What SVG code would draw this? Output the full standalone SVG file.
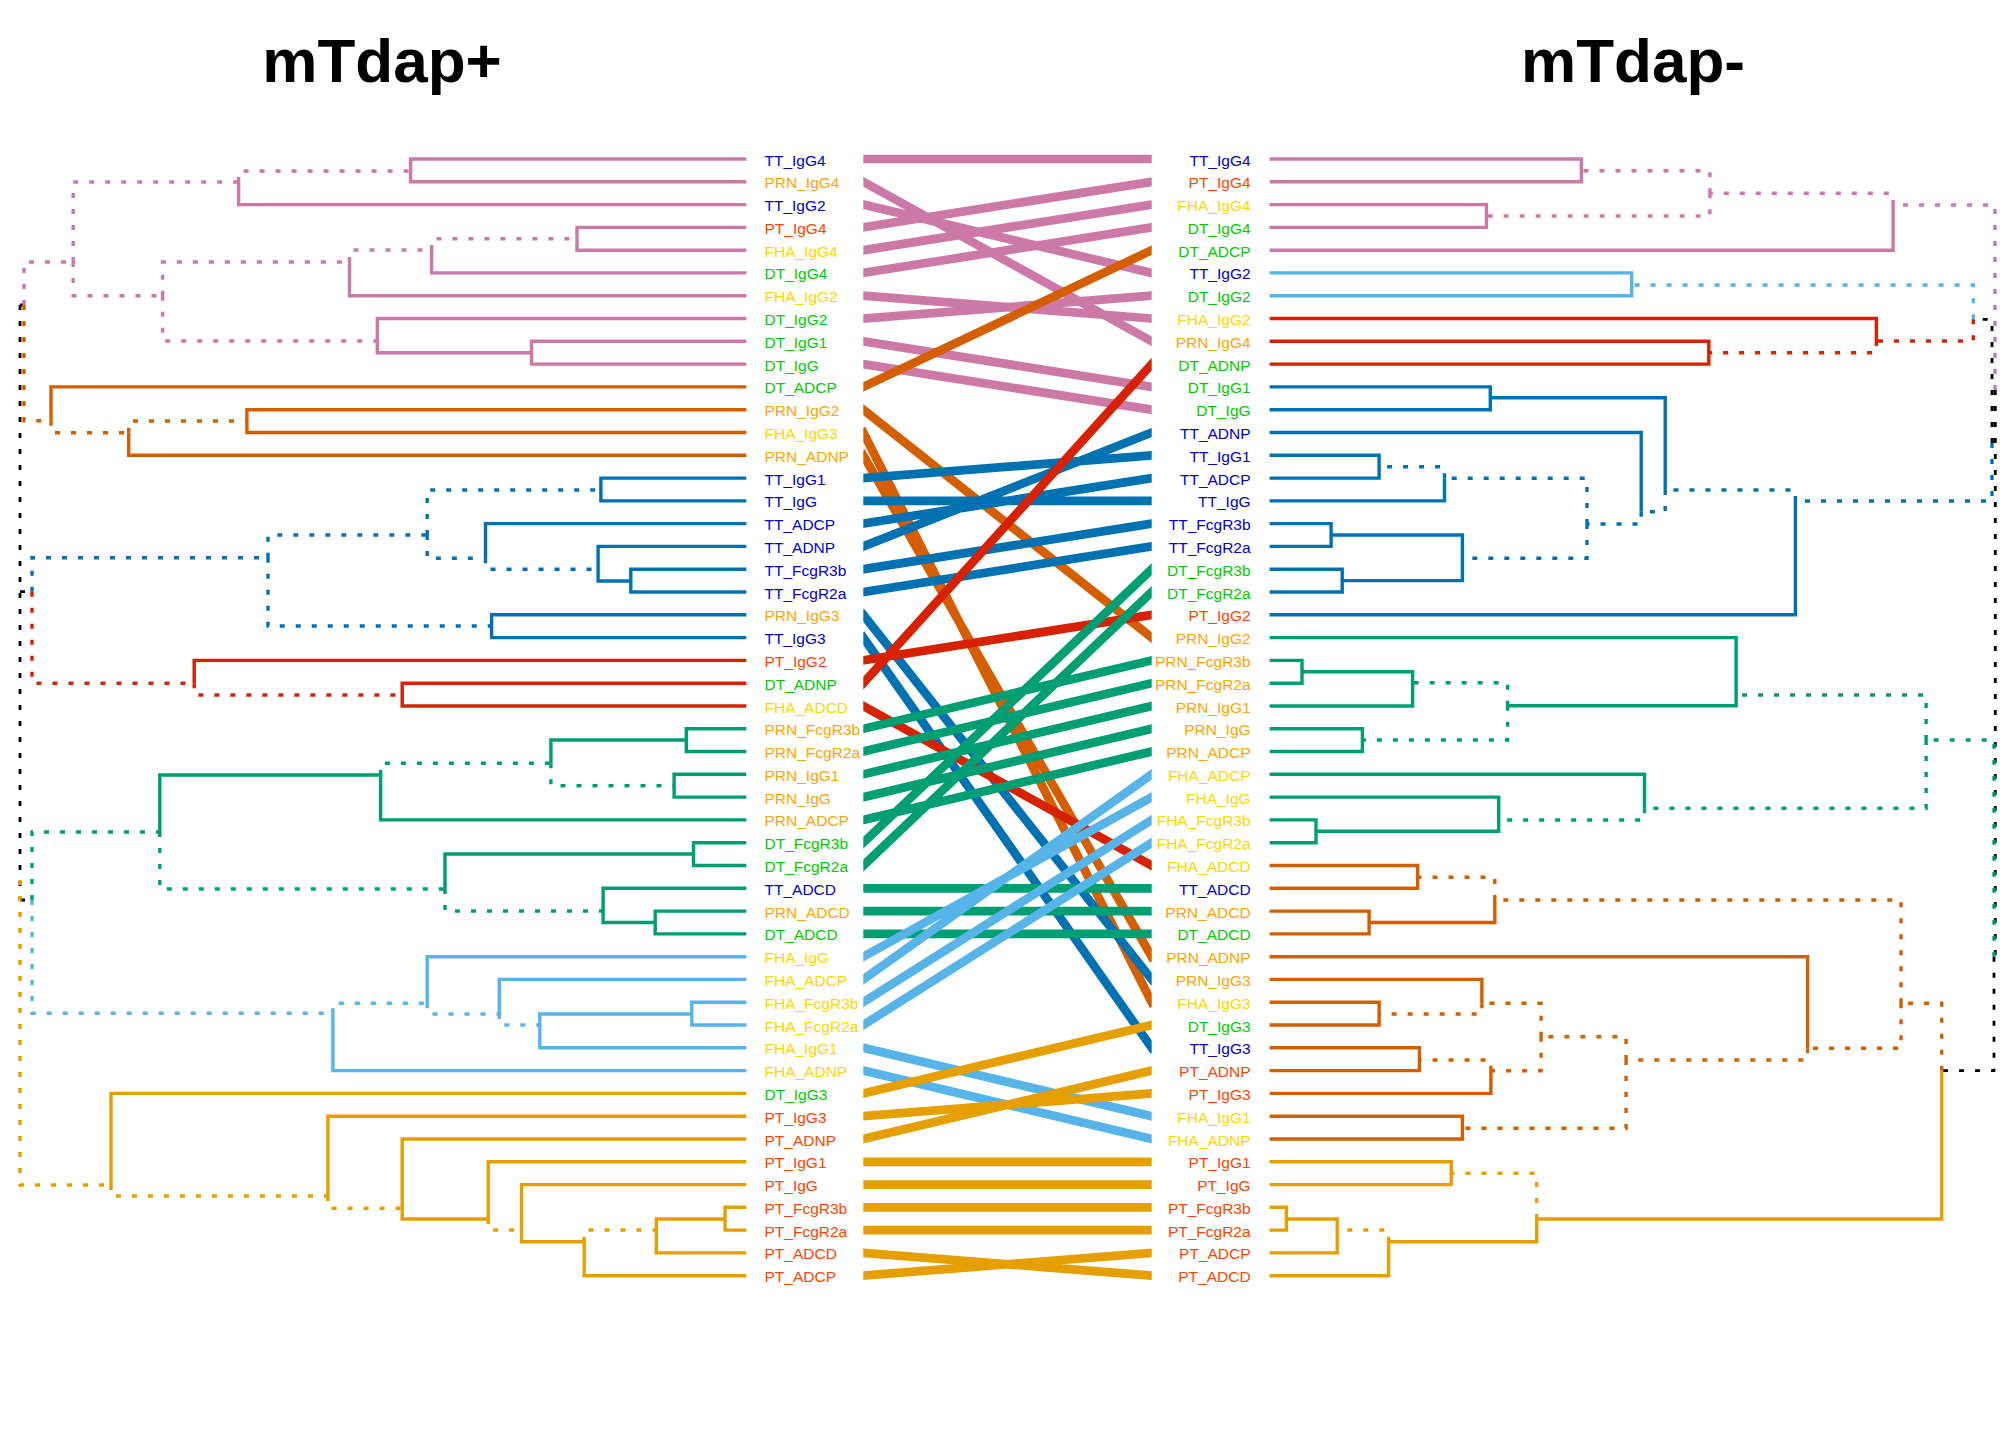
<svg xmlns="http://www.w3.org/2000/svg" width="2016" height="1440" viewBox="0 0 2016 1440">
<style>
.e{fill:none;stroke-width:3.4;stroke-linecap:butt}
.d{stroke-dasharray:5 11}
.k{stroke:#000;stroke-width:2.8}
.pk{stroke:#CC79A7}.or{stroke:#D55E00}.bl{stroke:#0072B2}.rd{stroke:#D62200}.gr{stroke:#009E73}.sb{stroke:#56B4E9}.yl{stroke:#E69F00}
.c{stroke-width:8.7;stroke-linecap:square;fill:none}
text{font-family:"Liberation Sans",Arial,sans-serif;font-size:15.5px}
.t{font-size:62px;font-weight:bold;fill:#000;text-anchor:middle}
.TT{fill:#0000CD}.PRN{fill:#FFA500}.PT{fill:#FF4500}.FHA{fill:#FFD700}.DT{fill:#00CD00}
.r{text-anchor:end}
</style>
<defs><clipPath id="cc"><rect x="863.3" y="0" width="288.4" height="1440"/></clipPath></defs>
<rect width="2016" height="1440" fill="#fff"/>
<g id="titles">
<text class="t" x="382" y="82">mTdap+</text>
<text class="t" x="1633" y="82">mTdap-</text>
</g>
<g id="left-dendrogram">
<path class="e k d" d="M20 305H24M20 305V900M20 591.7H32M20 900H32"/>
<path class="e pk" d="M238.6 182V204.6H746.3M410.6 171V159H746.3M410.6 171V181.8H746.3M349.5 262V295.7H746.3M431.6 250V272.9H746.3M577 238.8V227.4H746.3M577 238.8V250.2H746.3M377.3 341V318.5H746.3M377.3 341V352.7H531.5M531.5 352.7V341.3H746.3M531.5 352.7V364.1H746.3"/>
<path class="e pk d" d="M24 305V262H73.2M73.2 262V182H238.6M238.6 182V171H410.6M73.2 262V295.7H162.6M162.6 295.7V262H349.5M162.6 295.7V341H377.3M349.5 262V250H431.6M431.6 250V238.8H577"/>
<path class="e or" d="M51 420.7V386.9H746.3M128.7 432.7V455.3H746.3M246.9 421V409.7H746.3M246.9 421V432.5H746.3"/>
<path class="e or d" d="M24 305V420.7H51M51 420.7V432.7H128.7M128.7 432.7V421H246.9"/>
<path class="e bl" d="M600.9 490V478.1H746.3M600.9 490V500.9H746.3M485.5 558.3V523.6H746.3M598.1 569.3V546.4H746.3M598.1 569.3V581H630.8M630.8 581V569.2H746.3M630.8 581V592H746.3M491.6 626V614.8H746.3M491.6 626V637.6H746.3"/>
<path class="e bl d" d="M32 591.7V557.7H268M268 557.7V535H427.2M268 557.7V626H491.6M427.2 535V490H600.9M427.2 535V558.3H485.5M485.5 558.3V569.3H598.1"/>
<path class="e rd" d="M194.2 683.2V660.4H746.3M402.2 695V683.2H746.3M402.2 695V706H746.3"/>
<path class="e rd d" d="M32 591.7V683.2H194.2M194.2 683.2V695H402.2"/>
<path class="e gr" d="M159.8 832V775H380.6M380.6 775V819.9H746.3M550.9 763.3V740H686.3M686.3 740V728.8H746.3M686.3 740V751.5H746.3M674.1 785.7V774.3H746.3M674.1 785.7V797.1H746.3M445 889V854H693.5M693.5 854V842.7H746.3M693.5 854V865.5H746.3M603.1 911V888.3H746.3M603.1 911V922.5H655.2M655.2 922.5V911.1H746.3M655.2 922.5V933.9H746.3"/>
<path class="e gr d" d="M32 900V832H159.8M159.8 832V889H445M380.6 775V763.3H550.9M550.9 763.3V785.7H674.1M445 889V911H603.1"/>
<path class="e sb" d="M332.9 1013.3V1070.6H746.3M427.2 1003.3V956.7H746.3M499.3 1014V979.4H746.3M539.8 1025V1014H691.8M539.8 1025V1047.8H746.3M691.8 1014V1002.2H746.3M691.8 1014V1025H746.3"/>
<path class="e sb d" d="M32 900V1013.3H332.9M332.9 1013.3V1003.3H427.2M427.2 1003.3V1014H499.3M499.3 1014V1025H539.8"/>
<path class="e yl" d="M111 1185V1093.4H746.3M327.9 1196V1116.2H746.3M402.2 1208.3V1139H746.3M402.2 1208.3V1219H488.2M488.2 1219V1161.8H746.3M521.5 1230V1184.6H746.3M521.5 1230V1241.7H584.2M584.2 1241.7V1275.7H746.3M656.3 1230V1219H725.1M656.3 1230V1252.9H746.3M725.1 1219V1207.3H746.3M725.1 1219V1230.1H746.3"/>
<path class="e yl d" d="M20 880V1185H111M111 1185V1196H327.9M327.9 1196V1208.3H402.2M488.2 1219V1230H521.5M584.2 1241.7V1230H656.3"/>
</g>
<g id="right-dendrogram">
<path class="e k d" d="M1995.3 390V956.7M1995 390V443H1992M1992 443V319.3H1973.3M1994 956.7V1070.7H1941.7"/>
<path class="e pk" d="M1581.4 170.7V159H1269.6M1581.4 170.7V181.8H1269.6M1486.4 216V204.6H1269.6M1486.4 216V227.4H1269.6M1893.1 205V250.2H1269.6"/>
<path class="e pk d" d="M1995 390V205H1893.1M1893.1 205V193.3H1709.9M1709.9 193.3V170.7H1581.4M1709.9 193.3V216H1486.4"/>
<path class="e sb" d="M1631.7 285V272.9H1269.6M1631.7 285V295.7H1269.6"/>
<path class="e sb d" d="M1973.3 319.3V285H1631.7"/>
<path class="e rd" d="M1876.4 341V318.5H1269.6M1708.8 352.7V341.3H1269.6M1708.8 352.7V364.1H1269.6"/>
<path class="e rd d" d="M1973.3 319.3V341H1876.4M1876.4 341V352.7H1708.8"/>
<path class="e bl" d="M1795.4 501V614.8H1269.6M1665.2 490V397.7H1490.3M1490.3 397.7V386.9H1269.6M1490.3 397.7V409.7H1269.6M1641.2 511.7V432.5H1269.6M1444.5 478.3V500.9H1269.6M1379.1 466.7V455.3H1269.6M1379.1 466.7V478.1H1269.6M1462.4 558.3V535H1331.1M1462.4 558.3V580.6H1342.2M1331.1 535V523.6H1269.6M1331.1 535V546.4H1269.6M1342.2 580.6V569.2H1269.6M1342.2 580.6V592H1269.6"/>
<path class="e bl d" d="M1992 443V501H1795.4M1795.4 501V490H1665.2M1665.2 490V511.7H1641.2M1641.2 511.7V524H1587M1587 524V478.3H1444.5M1587 524V558.3H1462.4M1444.5 478.3V466.7H1379.1"/>
<path class="e gr" d="M1736.1 695V637.6H1269.6M1736.1 695V705.7H1507.6M1412.6 682.7V671.7H1302M1412.6 682.7V706H1269.6M1302 671.7V660.4H1269.6M1302 671.7V683.2H1269.6M1362.4 740V728.8H1269.6M1362.4 740V751.5H1269.6M1644.5 808.3V774.3H1269.6M1498.7 820V797.1H1269.6M1498.7 820V831.3H1316M1316 831.3V819.9H1269.6M1316 831.3V842.7H1269.6"/>
<path class="e gr d" d="M1994 956.7V740H1926.1M1926.1 740V695H1736.1M1926.1 740V808.3H1644.5M1507.6 705.7V682.7H1412.6M1507.6 705.7V740H1362.4M1644.5 808.3V820H1498.7"/>
<path class="e or" d="M1494.8 900V922.5H1369.1M1417.7 877.3V865.5H1269.6M1417.7 877.3V888.3H1269.6M1369.1 922.5V911.1H1269.6M1369.1 922.5V933.9H1269.6M1807.6 1048.3V956.7H1269.6M1481.9 1003.3V979.4H1269.6M1379.1 1014V1002.2H1269.6M1379.1 1014V1025H1269.6M1490.9 1070.7V1093.4H1269.6M1419.4 1060V1047.8H1269.6M1419.4 1060V1070.6H1269.6M1462.4 1128.3V1116.2H1269.6M1462.4 1128.3V1139H1269.6"/>
<path class="e or d" d="M1941.7 1070.7V1003.3H1901M1901 1003.3V900H1494.8M1901 1003.3V1048.3H1807.6M1494.8 900V877.3H1417.7M1807.6 1048.3V1060H1626.1M1626.1 1060V1036.7H1541.1M1626.1 1060V1128.3H1462.4M1541.1 1036.7V1003.3H1481.9M1541.1 1036.7V1070.7H1490.9M1481.9 1003.3V1014H1379.1M1490.9 1070.7V1060H1419.4"/>
<path class="e yl" d="M1941.7 1070.7V1219H1536.7M1536.7 1219V1241.7H1388.6M1451.2 1173.3V1161.8H1269.6M1451.2 1173.3V1184.6H1269.6M1388.6 1241.7V1275.7H1269.6M1337.2 1230V1219H1286.4M1337.2 1230V1252.9H1269.6M1286.4 1219V1207.3H1269.6M1286.4 1219V1230.1H1269.6"/>
<path class="e yl d" d="M1536.7 1219V1173.3H1451.2M1388.6 1241.7V1230H1337.2"/>
</g>
<g id="left-labels">
<g id="l00"><text class="TT" x="764.5" y="165.5">TT_IgG4</text></g>
<g id="l01"><text class="PRN" x="764.5" y="188.3">PRN_IgG4</text></g>
<g id="l02"><text class="TT" x="764.5" y="211.1">TT_IgG2</text></g>
<g id="l03"><text class="PT" x="764.5" y="233.9">PT_IgG4</text></g>
<g id="l04"><text class="FHA" x="764.5" y="256.7">FHA_IgG4</text></g>
<g id="l05"><text class="DT" x="764.5" y="279.4">DT_IgG4</text></g>
<g id="l06"><text class="FHA" x="764.5" y="302.2">FHA_IgG2</text></g>
<g id="l07"><text class="DT" x="764.5" y="325">DT_IgG2</text></g>
<g id="l08"><text class="DT" x="764.5" y="347.8">DT_IgG1</text></g>
<g id="l09"><text class="DT" x="764.5" y="370.6">DT_IgG</text></g>
<g id="l10"><text class="DT" x="764.5" y="393.4">DT_ADCP</text></g>
<g id="l11"><text class="PRN" x="764.5" y="416.2">PRN_IgG2</text></g>
<g id="l12"><text class="FHA" x="764.5" y="439">FHA_IgG3</text></g>
<g id="l13"><text class="PRN" x="764.5" y="461.8">PRN_ADNP</text></g>
<g id="l14"><text class="TT" x="764.5" y="484.6">TT_IgG1</text></g>
<g id="l15"><text class="TT" x="764.5" y="507.4">TT_IgG</text></g>
<g id="l16"><text class="TT" x="764.5" y="530.1">TT_ADCP</text></g>
<g id="l17"><text class="TT" x="764.5" y="552.9">TT_ADNP</text></g>
<g id="l18"><text class="TT" x="764.5" y="575.7">TT_FcgR3b</text></g>
<g id="l19"><text class="TT" x="764.5" y="598.5">TT_FcgR2a</text></g>
<g id="l20"><text class="PRN" x="764.5" y="621.3">PRN_IgG3</text></g>
<g id="l21"><text class="TT" x="764.5" y="644.1">TT_IgG3</text></g>
<g id="l22"><text class="PT" x="764.5" y="666.9">PT_IgG2</text></g>
<g id="l23"><text class="DT" x="764.5" y="689.7">DT_ADNP</text></g>
<g id="l24"><text class="FHA" x="764.5" y="712.5">FHA_ADCD</text></g>
<g id="l25"><text class="PRN" x="764.5" y="735.3">PRN_FcgR3b</text></g>
<g id="l26"><text class="PRN" x="764.5" y="758">PRN_FcgR2a</text></g>
<g id="l27"><text class="PRN" x="764.5" y="780.8">PRN_IgG1</text></g>
<g id="l28"><text class="PRN" x="764.5" y="803.6">PRN_IgG</text></g>
<g id="l29"><text class="PRN" x="764.5" y="826.4">PRN_ADCP</text></g>
<g id="l30"><text class="DT" x="764.5" y="849.2">DT_FcgR3b</text></g>
<g id="l31"><text class="DT" x="764.5" y="872">DT_FcgR2a</text></g>
<g id="l32"><text class="TT" x="764.5" y="894.8">TT_ADCD</text></g>
<g id="l33"><text class="PRN" x="764.5" y="917.6">PRN_ADCD</text></g>
<g id="l34"><text class="DT" x="764.5" y="940.4">DT_ADCD</text></g>
<g id="l35"><text class="FHA" x="764.5" y="963.2">FHA_IgG</text></g>
<g id="l36"><text class="FHA" x="764.5" y="985.9">FHA_ADCP</text></g>
<g id="l37"><text class="FHA" x="764.5" y="1008.7">FHA_FcgR3b</text></g>
<g id="l38"><text class="FHA" x="764.5" y="1031.5">FHA_FcgR2a</text></g>
<g id="l39"><text class="FHA" x="764.5" y="1054.3">FHA_IgG1</text></g>
<g id="l40"><text class="FHA" x="764.5" y="1077.1">FHA_ADNP</text></g>
<g id="l41"><text class="DT" x="764.5" y="1099.9">DT_IgG3</text></g>
<g id="l42"><text class="PT" x="764.5" y="1122.7">PT_IgG3</text></g>
<g id="l43"><text class="PT" x="764.5" y="1145.5">PT_ADNP</text></g>
<g id="l44"><text class="PT" x="764.5" y="1168.3">PT_IgG1</text></g>
<g id="l45"><text class="PT" x="764.5" y="1191.1">PT_IgG</text></g>
<g id="l46"><text class="PT" x="764.5" y="1213.8">PT_FcgR3b</text></g>
<g id="l47"><text class="PT" x="764.5" y="1236.6">PT_FcgR2a</text></g>
<g id="l48"><text class="PT" x="764.5" y="1259.4">PT_ADCD</text></g>
<g id="l49"><text class="PT" x="764.5" y="1282.2">PT_ADCP</text></g>
</g>
<g id="right-labels">
<g id="r00"><text class="TT r" x="1250.6" y="165.5">TT_IgG4</text></g>
<g id="r01"><text class="PT r" x="1250.6" y="188.3">PT_IgG4</text></g>
<g id="r02"><text class="FHA r" x="1250.6" y="211.1">FHA_IgG4</text></g>
<g id="r03"><text class="DT r" x="1250.6" y="233.9">DT_IgG4</text></g>
<g id="r04"><text class="DT r" x="1250.6" y="256.7">DT_ADCP</text></g>
<g id="r05"><text class="TT r" x="1250.6" y="279.4">TT_IgG2</text></g>
<g id="r06"><text class="DT r" x="1250.6" y="302.2">DT_IgG2</text></g>
<g id="r07"><text class="FHA r" x="1250.6" y="325">FHA_IgG2</text></g>
<g id="r08"><text class="PRN r" x="1250.6" y="347.8">PRN_IgG4</text></g>
<g id="r09"><text class="DT r" x="1250.6" y="370.6">DT_ADNP</text></g>
<g id="r10"><text class="DT r" x="1250.6" y="393.4">DT_IgG1</text></g>
<g id="r11"><text class="DT r" x="1250.6" y="416.2">DT_IgG</text></g>
<g id="r12"><text class="TT r" x="1250.6" y="439">TT_ADNP</text></g>
<g id="r13"><text class="TT r" x="1250.6" y="461.8">TT_IgG1</text></g>
<g id="r14"><text class="TT r" x="1250.6" y="484.6">TT_ADCP</text></g>
<g id="r15"><text class="TT r" x="1250.6" y="507.4">TT_IgG</text></g>
<g id="r16"><text class="TT r" x="1250.6" y="530.1">TT_FcgR3b</text></g>
<g id="r17"><text class="TT r" x="1250.6" y="552.9">TT_FcgR2a</text></g>
<g id="r18"><text class="DT r" x="1250.6" y="575.7">DT_FcgR3b</text></g>
<g id="r19"><text class="DT r" x="1250.6" y="598.5">DT_FcgR2a</text></g>
<g id="r20"><text class="PT r" x="1250.6" y="621.3">PT_IgG2</text></g>
<g id="r21"><text class="PRN r" x="1250.6" y="644.1">PRN_IgG2</text></g>
<g id="r22"><text class="PRN r" x="1250.6" y="666.9">PRN_FcgR3b</text></g>
<g id="r23"><text class="PRN r" x="1250.6" y="689.7">PRN_FcgR2a</text></g>
<g id="r24"><text class="PRN r" x="1250.6" y="712.5">PRN_IgG1</text></g>
<g id="r25"><text class="PRN r" x="1250.6" y="735.3">PRN_IgG</text></g>
<g id="r26"><text class="PRN r" x="1250.6" y="758">PRN_ADCP</text></g>
<g id="r27"><text class="FHA r" x="1250.6" y="780.8">FHA_ADCP</text></g>
<g id="r28"><text class="FHA r" x="1250.6" y="803.6">FHA_IgG</text></g>
<g id="r29"><text class="FHA r" x="1250.6" y="826.4">FHA_FcgR3b</text></g>
<g id="r30"><text class="FHA r" x="1250.6" y="849.2">FHA_FcgR2a</text></g>
<g id="r31"><text class="FHA r" x="1250.6" y="872">FHA_ADCD</text></g>
<g id="r32"><text class="TT r" x="1250.6" y="894.8">TT_ADCD</text></g>
<g id="r33"><text class="PRN r" x="1250.6" y="917.6">PRN_ADCD</text></g>
<g id="r34"><text class="DT r" x="1250.6" y="940.4">DT_ADCD</text></g>
<g id="r35"><text class="PRN r" x="1250.6" y="963.2">PRN_ADNP</text></g>
<g id="r36"><text class="PRN r" x="1250.6" y="985.9">PRN_IgG3</text></g>
<g id="r37"><text class="FHA r" x="1250.6" y="1008.7">FHA_IgG3</text></g>
<g id="r38"><text class="DT r" x="1250.6" y="1031.5">DT_IgG3</text></g>
<g id="r39"><text class="TT r" x="1250.6" y="1054.3">TT_IgG3</text></g>
<g id="r40"><text class="PT r" x="1250.6" y="1077.1">PT_ADNP</text></g>
<g id="r41"><text class="PT r" x="1250.6" y="1099.9">PT_IgG3</text></g>
<g id="r42"><text class="FHA r" x="1250.6" y="1122.7">FHA_IgG1</text></g>
<g id="r43"><text class="FHA r" x="1250.6" y="1145.5">FHA_ADNP</text></g>
<g id="r44"><text class="PT r" x="1250.6" y="1168.3">PT_IgG1</text></g>
<g id="r45"><text class="PT r" x="1250.6" y="1191.1">PT_IgG</text></g>
<g id="r46"><text class="PT r" x="1250.6" y="1213.8">PT_FcgR3b</text></g>
<g id="r47"><text class="PT r" x="1250.6" y="1236.6">PT_FcgR2a</text></g>
<g id="r48"><text class="PT r" x="1250.6" y="1259.4">PT_ADCP</text></g>
<g id="r49"><text class="PT r" x="1250.6" y="1282.2">PT_ADCD</text></g>
</g>
<g id="connectors" clip-path="url(#cc)">
<path class="c pk" d="M863.3 159L1151.7 159M863.3 181.8L1151.7 341.3M863.3 204.6L1151.7 272.9M863.3 227.4L1151.7 181.8M863.3 250.2L1151.7 204.6M863.3 272.9L1151.7 227.4M863.3 295.7L1151.7 318.5M863.3 318.5L1151.7 295.7M863.3 341.3L1151.7 386.9M863.3 364.1L1151.7 409.7"/>
<path class="c or" d="M863.3 386.9L1151.7 250.2M863.3 409.7L1151.7 637.6M863.3 432.5L1151.7 1002.2M863.3 455.3L1151.7 956.7"/>
<path class="c bl" d="M863.3 478.1L1151.7 455.3M863.3 500.9L1151.7 500.9M863.3 523.6L1151.7 478.1M863.3 546.4L1151.7 432.5M863.3 569.2L1151.7 523.6M863.3 592L1151.7 546.4M863.3 614.8L1151.7 979.4M863.3 637.6L1151.7 1047.8"/>
<path class="c rd" d="M863.3 660.4L1151.7 614.8M863.3 683.2L1151.7 364.1M863.3 706L1151.7 865.5"/>
<path class="c gr" d="M863.3 728.8L1151.7 660.4M863.3 751.5L1151.7 683.2M863.3 774.3L1151.7 706M863.3 797.1L1151.7 728.8M863.3 819.9L1151.7 751.5M863.3 842.7L1151.7 569.2M863.3 865.5L1151.7 592M863.3 888.3L1151.7 888.3M863.3 911.1L1151.7 911.1M863.3 933.9L1151.7 933.9"/>
<path class="c sb" d="M863.3 956.7L1151.7 797.1M863.3 979.4L1151.7 774.3M863.3 1002.2L1151.7 819.9M863.3 1025L1151.7 842.7M863.3 1047.8L1151.7 1116.2M863.3 1070.6L1151.7 1139"/>
<path class="c yl" d="M863.3 1093.4L1151.7 1025M863.3 1116.2L1151.7 1093.4M863.3 1139L1151.7 1070.6M863.3 1161.8L1151.7 1161.8M863.3 1184.6L1151.7 1184.6M863.3 1207.3L1151.7 1207.3M863.3 1230.1L1151.7 1230.1M863.3 1252.9L1151.7 1275.7M863.3 1275.7L1151.7 1252.9"/>
</g>
</svg>
